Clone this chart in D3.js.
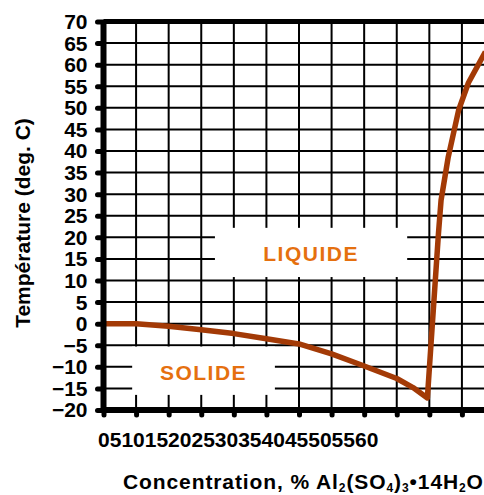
<!DOCTYPE html>
<html>
<head>
<meta charset="utf-8">
<script src="https://cdn.jsdelivr.net/npm/d3@7"></script>
<style>
    body { margin: 0; background: #fff; }
    svg { display: block; font-family: "Liberation Sans", Arial, sans-serif; font-weight: bold; }
</style>
</head>
<body>
<div id="output"></div>
<script>
// concentration (%) and temperature (deg C)
var concValues = [0, 5, 10, 15, 20, 25, 30, 35, 40, 45, 47.5, 49.7, 51.4, 51.8, 52.9, 54.5, 56, 58.6];
var tempValues = [0, 0, -0.6, -1.4, -2.3, -3.5, -4.7, -7, -9.8, -12.7, -14.8, -17.2, 20.9, 28.6, 38.6, 49.5, 55.8, 63];

var xTicks = [0, 5, 10, 15, 20, 25, 30, 35, 40, 45, 50, 55, 60];
var yTicks = [-20, -15, -10, -5, 0, 5, 10, 15, 20, 25, 30, 35, 40, 45, 50, 55, 60, 65, 70];

var w = 484;
var h = 495;

var x = d3.scaleLinear()
    .domain([0, 60])
    .range([103.5, 494.5]);

var y = d3.scaleLinear()
    .domain([-20, 70])
    .range([410, 21.5]);

var svg = d3.select("#output").append("svg")
    .attr("width", w)
    .attr("height", h);

// grid
svg.append("g")
    .selectAll("line")
    .data(yTicks.filter(function (d) { return d > -20 && d < 70; }))
    .enter()
    .append("line")
    .attr("x1", x(0))
    .attr("x2", w)
    .attr("y1", function (d) { return y(d); })
    .attr("y2", function (d) { return y(d); })
    .attr("stroke", "#000")
    .attr("stroke-width", 2);

svg.append("g")
    .selectAll("line")
    .data(xTicks.filter(function (d) { return d > 0; }))
    .enter()
    .append("line")
    .attr("x1", function (d) { return x(d); })
    .attr("x2", function (d) { return x(d); })
    .attr("y1", y(70))
    .attr("y2", y(-20))
    .attr("stroke", "#000")
    .attr("stroke-width", 2);

// white boxes behind the phase labels
var boxes = [
    {text: "LIQUIDE", x0: 17.1, x1: 46.6, y0: 10.8, y1: 22.2},
    {text: "SOLIDE", x0: 4.4, x1: 26.3, y0: -16.5, y1: -5.3}
];

svg.selectAll(".box")
    .data(boxes)
    .enter()
    .append("rect")
    .attr("class", "box")
    .attr("x", function (d) { return x(d.x0); })
    .attr("y", function (d) { return y(d.y1); })
    .attr("width", function (d) { return x(d.x1) - x(d.x0); })
    .attr("height", function (d) { return y(d.y0) - y(d.y1); })
    .attr("fill", "#fff");

svg.selectAll(".phase")
    .data(boxes)
    .enter()
    .append("text")
    .attr("class", "phase")
    .attr("x", function (d) { return (x(d.x0) + x(d.x1)) / 2; })
    .attr("y", function (d) { return (y(d.y0) + y(d.y1)) / 2 + 9; })
    .attr("text-anchor", "middle")
    .attr("font-size", 21)
    .attr("letter-spacing", 1.5)
    .attr("fill", "#E5700F")
    .text(function (d) { return d.text; });

// curve
var line = d3.line()
    .x(function (d, i) { return x(concValues[i]); })
    .y(function (d) { return y(d); });

svg.append("path")
    .datum(tempValues)
    .attr("d", line)
    .attr("fill", "none")
    .attr("stroke", "#A33A06")
    .attr("stroke-width", 5.5)
    .attr("stroke-linejoin", "round");

// axes
var yAxis = d3.axisLeft(y)
    .tickValues(yTicks)
    .tickSize(6)
    .tickPadding(10);

var gy = svg.append("g")
    .attr("transform", "translate(" + x(0) + ",0)")
    .call(yAxis);

gy.select(".domain").remove();
gy.selectAll(".tick line")
    .attr("stroke", "#000")
    .attr("stroke-width", 5)
    .attr("stroke-linecap", "round");
gy.selectAll(".tick text")
    .attr("font-family", "Liberation Sans, Arial, sans-serif")
    .attr("font-weight", "bold")
    .attr("font-size", 21)
    .attr("fill", "#000")
    .attr("dy", "0.33em");

var xAxis = d3.axisBottom(x)
    .tickValues(xTicks)
    .tickSize(5)
    .tickFormat("");

var gx = svg.append("g")
    .attr("transform", "translate(0," + y(-20) + ")")
    .call(xAxis);

gx.select(".domain").remove();
gx.selectAll(".tick line")
    .attr("stroke", "#000")
    .attr("stroke-width", 5)
    .attr("stroke-linecap", "round");

// thick frame lines
svg.append("line")
    .attr("x1", x(0)).attr("x2", x(0))
    .attr("y1", y(70)).attr("y2", y(-20) + 3)
    .attr("stroke", "#000")
    .attr("stroke-width", 6);

svg.append("line")
    .attr("x1", x(0)).attr("x2", w)
    .attr("y1", y(-20)).attr("y2", y(-20))
    .attr("stroke", "#000")
    .attr("stroke-width", 6);

svg.append("line")
    .attr("x1", x(0)).attr("x2", w)
    .attr("y1", y(70)).attr("y2", y(70))
    .attr("stroke", "#000")
    .attr("stroke-width", 5);

// x tick labels run together in the original
svg.append("text")
    .attr("x", 98)
    .attr("y", 447)
    .attr("font-size", 21)
    .selectAll("tspan")
    .data(xTicks)
    .enter()
    .append("tspan")
    .text(function (d) { return d; });

// axis titles
svg.append("text")
    .attr("transform", "translate(30,223) rotate(-90)")
    .attr("text-anchor", "middle")
    .attr("font-size", 21)
    .text("Température (deg. C)");

var xt = svg.append("text")
    .attr("x", 123)
    .attr("y", 489)
    .attr("font-size", 21)
    .attr("letter-spacing", 0.9);

xt.append("tspan").text("Concentration, % Al");
xt.append("tspan").attr("dy", 3).attr("font-size", 12).text("2");
xt.append("tspan").attr("dy", -3).text("(SO");
xt.append("tspan").attr("dy", 3).attr("font-size", 12).text("4");
xt.append("tspan").attr("dy", -3).text(")");
xt.append("tspan").attr("dy", 3).attr("font-size", 12).text("3");
xt.append("tspan").attr("dy", -3).text("\u2022");
xt.append("tspan").text("14H");
xt.append("tspan").attr("dy", 3).attr("font-size", 12).text("2");
xt.append("tspan").attr("dy", -3).text("O");
</script>
</body>
</html>
